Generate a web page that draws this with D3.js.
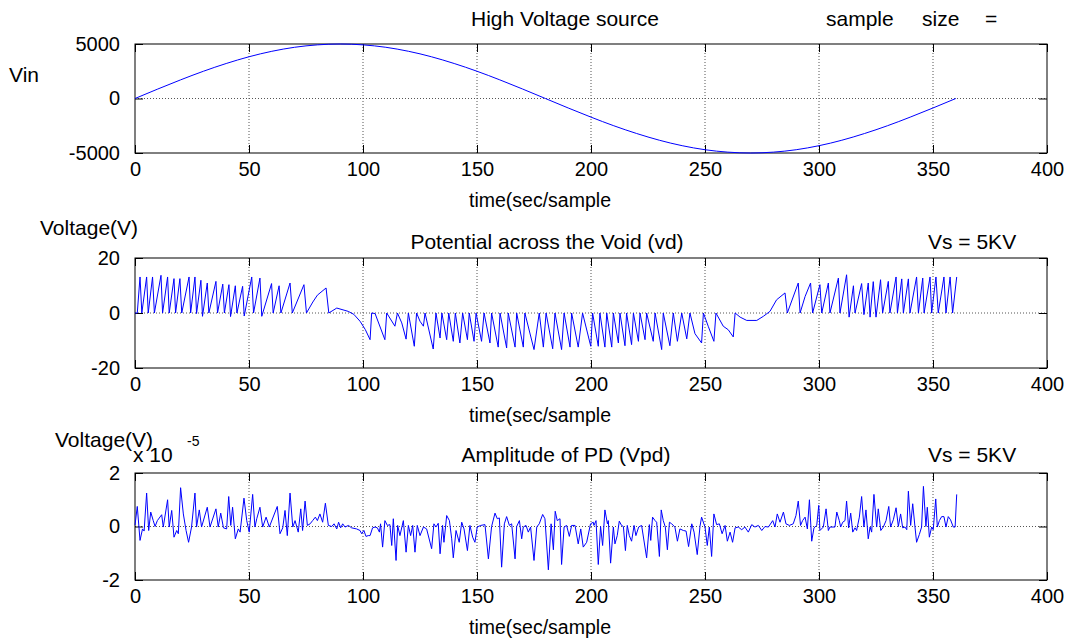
<!DOCTYPE html>
<html>
<head>
<meta charset="utf-8">
<script src="https://cdn.jsdelivr.net/npm/d3@7"></script>
<style>
  body { margin: 0; background: #fff; }
  svg text { font-family: "Liberation Sans", Arial, sans-serif; fill: #000; }
</style>
</head>
<body>
<div id="chart"></div>
<script>
/* Three stacked panels: source voltage, void potential, PD amplitude */

const xTicks = [0, 50, 100, 150, 200, 250, 300, 350, 400];

// source voltage, read every 10 samples
const vinT = [0, 10, 20, 30, 40, 50, 60, 70, 80, 90, 100, 110, 120, 130, 140, 150, 160, 170, 180,
              190, 200, 210, 220, 230, 240, 250, 260, 270, 280, 290, 300, 310, 320, 330, 340, 350, 360];
const vinV = [0, 870, 1710, 2500, 3210, 3830, 4330, 4700, 4920, 5000, 4920, 4700, 4330, 3830, 3210, 2500, 1710, 870, 0,
              -870, -1710, -2500, -3210, -3830, -4330, -4700, -4920, -5000, -4920, -4700, -4330, -3830, -3210, -2500, -1710, -870, 0];

// potential across the void (sample, volts) - vertices
const vdPoints = [
  [0,0],[1,0],[2.2,13.1],[3,0],[5.1,13.1],[5.8,0],[7.7,13.1],[8.5,0],[11.4,13.7],[12.1,0],[14.3,13.1],[15,0],
  [17.1,12.5],[17.8,0],[19.7,12.5],[20.5,0],[23.7,13.1],[24.4,0],[26.3,13.1],[27,-0.2],[28.9,11.9],[29.6,-1.2],
  [31.7,10.9],[32.4,0],[35.5,11.5],[36.2,0],[38.5,10.5],[39.2,0],[41.2,10.3],[41.9,-1.3],[44,9.9],[44.7,0],
  [47.2,9.7],[47.9,-1.1],[51.2,13.1],[52,0],[54.8,12.7],[55.6,-1.2],[59.9,10.7],[60.6,0],[63.2,9.9],[64,0],
  [68,10.9],[69,0],[74.1,10.3],[75.2,0],[78,4],[80,6.5],[83.8,9.1],[85,0],[88.5,1.8],[93.5,0.6],[96,-0.5],
  [98.7,-3],[101,-6],[103.1,-9.7],
  [103.8,0],[105.3,-0.2],[109.6,-9.7],[110.4,0],[114.0,-4.8],[115.1,0],[117.0,-3.6],[118.9,-9.5],[119.9,0],
  [122.5,-12.1],[123.5,0],[125.0,-3.0],[126.5,-4.8],[127.2,0],[130.8,-13.1],[132.0,0],[133.8,-9.1],[134.6,0],
  [136.7,-9.7],[137.6,0],[139.6,-10.3],[140.5,0],[142.5,-10.9],[143.7,0],[145.8,-9.7],[146.6,0],[148.7,-10.3],
  [149.6,0],[152.0,-10.3],[153.1,0],[155.7,-10.9],[156.4,0],[159.3,-12.4],[160.1,0],[163.0,-12.7],[163.7,0],
  [166.7,-12.4],[167.4,0],[170.3,-12.4],[171.0,0],[175.0,-13.3],[177.3,0],[179.1,-12.4],[180.3,0],[183.2,-13.0],
  [184.2,0],[187.1,-13.3],[188.2,0],[190.8,-12.4],[191.5,0],[194.4,-12.4],[196.3,0],[199.9,-12.1],[200.7,0],
  [203.2,-12.1],[203.9,0],
  [206.1,-12.4],[206.9,0],[209.1,-12.4],[209.8,0],[212.0,-10.9],[212.7,0],[214.9,-11.9],[215.6,0],[217.8,-11.5],
  [218.6,0],[220.8,-10.3],[221.5,0],[223.7,-9.7],[224.4,0],[227.3,-10.3],[228.1,0],[231.0,-13.3],[231.7,0],
  [234.6,-11.9],[236.1,0],[237.9,-10.3],[239.8,0],[242.0,-9.4],[243.4,0],[245.6,-7.5],[248.5,-10.9],[249.3,0],
  [251.5,-5],[253.9,-10.3],[254.8,0],[258.0,-4.8],[260.2,-6.1],[262.4,-8.7],[263.2,0],[265.4,-1.5],[268.3,-2.7],
  [272.7,-2.7],[275.6,-1.2],[278.5,0.6],[281.4,4.8],[285.1,7.3],[286.1,0],[290.9,10.9],[291.7,0],[293.9,6],
  [296.3,10.9],[297.2,0],[300.4,10.3],[301.2,0],[304.1,10.9],[304.8,0],[308.5,12.7],
  [309.2,0],[312.1,13.9],[313.2,-1.5],[315.1,9.9],[315.8,0],[318.7,10.7],[319.7,-0.6],[321.6,10.9],[322.4,-1.5],
  [323.8,11.4],[325.0,-1.5],[327.0,12.1],[327.9,0],[330.4,11.5],[331.1,0],[333.8,13.1],[334.4,0],[336.3,12.4],
  [337.0,0],[339.2,12.4],[339.9,0],[342.8,13.1],[343.6,0],[345.5,12.7],[346.1,0],[348.7,13.1],[349.4,0],
  [351.3,13.1],[352.3,0],[354.8,13.1],[355.7,0],[357.5,13.1],[358.6,0],[360.4,13.1]
];

// PD amplitude (sample, x 10^-5 V)
const vpdPoints = [
  [0,0.05],[1,0.75],[2.2,-0.52],[3.3,-0.09],[4,-0.17],[5.1,1.25],[6,-0.15],[6.9,0.54],[8,0.22],[8.8,0],[9.8,0.22],
  [11.7,0.44],[12.4,-0.02],[14.3,1.0],[15,-0.02],[16.1,0.6],[17.1,-0.4],[18.3,-0.15],[19,-0.27],[20,1.45],[21.2,0.47],
  [22.4,-0.15],[23.5,-0.59],[24.8,-0.02],[26.3,1.25],[27,-0.02],[28.2,0.62],[29.2,-0.02],[31.7,0.72],[32.9,-0.02],
  [35.5,0.66],[36.5,-0.02],[37.6,0.5],[38.8,-0.05],[40.2,-0.09],[41.1,1.12],[42,0.04],[42.8,0.72],[44,-0.46],
  [45.3,-0.09],[46.1,-0.21],[47.8,1.06],[49,0.22],[50.1,-0.21],[51.6,1.2],[52.6,-0.02],[53.4,0.29],[54.8,0.72],
  [56,-0.02],[57.5,0.35],[58.9,-0.02],[62.4,0.75],[63.6,-0.27],[64.8,-0.05],[65.8,0.6],[66.8,-0.34],[68,1.25],
  [69.2,-0.02],[70.2,0.22],[71.6,-0.21],[72.7,0.66],[73.5,-0.15],[74.6,0.95],[75.6,0.04],[76.8,0.1],[77.9,0.22],
  [79.1,0.35],[80,0.22],[81.1,0.47],[82.3,0.16],[83.5,0.87],[84.8,0.04],[86.3,0],[87.3,0.1],[88.5,-0.09],[89.3,0.16],
  [90.2,-0.05],[91.1,0.1],[92.1,-0.02],[93.6,0.04],[95,-0.05],[97.2,-0.09],[98.7,-0.15],[99.4,-0.27],[100.4,-0.15],
  [101.3,-0.37],[102.3,-0.34],[103.1,-0.34],[104.2,-0.05],[105.3,-0.02],[106.3,-0.05],[107.2,-0.21],[107.7,0.1],
  [108.6,-0.77],[109.6,0.22],[110.7,0.04],[111.8,0.07],[112.6,-0.71],[113.3,0.29],[114.5,-1.27],[115.2,0.04],
  [116.2,-0.34],[117.7,0.22],[118.9,-0.96],[119.9,0.04],[120.9,-0.34],[121.8,0.04],[122.8,-0.96],[123.8,0.04],
  [125,-0.34],[126.5,-0.02],[127.9,-0.09],[130.1,-0.83],[131.1,0.1],[132,-0.02],[133,0.12],[133.8,-1.02],[134.9,0.04],
  [135.5,-0.59],[136.7,0.41],[137.9,0.22],[138.9,-0.46],[139.6,-1.17],[140.8,-0.15],[142.2,-0.59],[143.3,0.16],
  [144.3,-0.09],[145.8,-0.9],[146.9,0.04],[148.1,-0.4],[149.1,-0.59],[150.1,-0.02],[151.6,0.04],[153.5,0.07],
  [155,-1.21],[156.4,0],[157.9,0.5],[158.9,0.29],[159.8,0.32],[160.8,-1.52],[162,0.1],[163,0.37],[164.2,0.04],
  [165.2,0.1],[166.7,-1.21],[167.4,0],[168.6,0.22],[169.6,-0.46],[170.3,-0.02],[171.5,0.04],[172.5,-0.21],
  [173.5,-0.02],[175,-1.27],[176.2,-0.02],[177.3,0.1],[178.8,0.45],[179.8,0.29],[181.3,-1.62],[182.5,0.1],
  [183.5,-0.87],[184.3,0.57],[185.2,0.22],[186.4,0.29],[187.1,-1.42],[188.2,-0.02],[189.3,0.04],[190.5,-0.37],
  [191.5,0.04],[193,0.04],[194.4,-0.65],[195.5,-0.09],[196.6,-0.77],[198.1,-0.59],[199.8,0.1],[201,0.16],
  [201.3,0.04],[202.2,0.22],[203.2,-1.42],[204.2,0],[205.1,-0.71],[206.1,0.62],[207.2,0.1],[207.6,0.22],
  [208.6,-1.37],[209.8,-0.02],[210.5,-0.65],[211.5,-0.34],[212.4,0.2],[213.4,0.04],[214.2,0],[215.1,-0.9],
  [215.9,0.04],[216.8,-0.34],[217.8,-0.55],[218.9,0.04],[219.7,-0.34],[220.9,-0.02],[222.2,0.04],[224.4,-1.17],
  [225.6,0.07],[226.2,-0.52],[227,0.35],[228.1,0.22],[228.8,0.16],[230,-1.12],[230.8,0.62],[231.7,0.22],
  [232.6,-0.02],[233.5,-0.87],[234.4,0.16],[235.4,0.1],[236.8,-0.02],[237.9,-0.55],[239,-0.09],[240.5,-0.15],
  [241.7,-0.17],[242.8,-0.75],[244.2,0.1],[245.2,-0.21],[246.6,-1.05],[247.8,0],[248.5,0.35],[250,-0.02],
  [251,-0.71],[251.9,-0.02],[252.9,-1.12],[253.9,0.47],[255.1,0.07],[256.3,0.1],[257.5,-0.27],[258.8,0.04],
  [259.8,-0.55],[261,-0.21],[262.1,-0.59],[263.2,-0.05],[264.6,-0.02],[266.1,-0.12],[267.5,-0.02],[269,-0.21],
  [270.5,0.07],[271.9,-0.02],[273.4,0.04],[274.9,-0.15],[276.3,0],[277.8,-0.02],[279.7,0.22],[280.7,-0.02],
  [281.7,0.47],[282.9,0.16],[284.4,0.54],[285.5,0.1],[287,0.04],[288.7,0.1],[289.9,0.41],[290.9,0.95],[291.9,0.04],
  [292.8,0.22],[293.9,0.35],[294.9,-0.09],[295.8,1.0],[296.8,-0.55],[297.8,-0.05],[299,0.04],[299.9,0.79],
  [300.4,-0.15],[301.9,-0.02],[303.1,0.66],[304.1,-0.15],[304.8,-0.02],[307,-0.02],[307.8,0.54],[308.9,0.22],
  [309.5,-0.02],[310.4,0.16],[311.4,0.22],[312.1,0.95],[313,-0.05],[313.9,0.5],[314.8,-0.21],[315.8,-0.05],
  [316.5,-0.15],[317.7,0.35],[318.7,1.12],[319.7,-0.02],[320.6,0.62],[321.6,-0.46],[322.4,-0.02],[323.1,-0.21],
  [324.1,1.2],[325.3,-0.02],[326,0.66],[327.1,-0.15],[328.2,-0.02],[329.4,0.22],[330.6,0.75],[331.4,-0.02],
  [332.6,0.25],[333.8,0.7],[334.8,0],[335.8,0.47],[336.7,-0.05],[337.7,-0.02],[338.5,-0.12],[339.2,1.32],
  [340.2,0.04],[341.1,0.85],[342.1,-0.02],[342.8,-0.59],[344,-0.3],[345,-0.02],[345.8,1.5],[346.9,0],[347.5,0.72],
  [348.4,-0.4],[349.4,-0.02],[350.1,-0.12],[351.2,1.03],[351.9,-0.02],[352.8,0.22],[353.8,0.37],[354.8,0.37],
  [355.7,-0.02],[356.7,0.37],[357.7,0.25],[358.9,-0.02],[359.7,-0.02],[360.4,1.2]
];

const width = 1066,
      height = 641,
      left = 135,
      right = 1047;

let svg = d3.select("#chart")
    .append("svg")
    .attr("width", width)
    .attr("height", height);

let x = d3.scaleLinear().domain([0, 400]).range([left, right]);

const panels = [
    { top: 44,  bottom: 153, domain: [-5000, 5000], ticks: [-5000, 0, 5000],
      pts: vinT.map((t, i) => [t, vinV[i]]), curve: d3.curveMonotoneX },
    { top: 258, bottom: 368, domain: [-20, 20], ticks: [-20, 0, 20],
      pts: vdPoints, curve: d3.curveLinear },
    { top: 473, bottom: 580, domain: [-2, 2], ticks: [-2, 0, 2],
      pts: vpdPoints, curve: d3.curveLinear }
];

const tickFs = 20,   // tick numbers
      labFs = 21;    // titles and axis labels

panels.forEach(p => {
    let y = d3.scaleLinear().domain(p.domain).range([p.bottom, p.top]);
    let g = svg.append("g");

    // dotted grid
    g.selectAll(".vgrid")
        .data(xTicks.slice(1, -1))
        .join("line")
        .attr("x1", d => x(d)).attr("x2", d => x(d))
        .attr("y1", p.top).attr("y2", p.bottom)
        .attr("stroke", "#555").attr("stroke-dasharray", "1,2");
    g.append("line")
        .attr("x1", left).attr("x2", right)
        .attr("y1", y(0)).attr("y2", y(0))
        .attr("stroke", "#555").attr("stroke-dasharray", "1,2");

    // inward ticks on all four sides, plain hyphen for negatives
    g.append("g").attr("transform", `translate(0,${p.bottom})`)
        .call(d3.axisBottom(x).tickValues(xTicks).tickSize(-8).tickPadding(9).tickFormat(d => String(d)))
        .call(a => a.select(".domain").remove())
        .call(a => a.selectAll("text").attr("font-size", tickFs).attr("font-family", "Liberation Sans"));
    g.append("g").attr("transform", `translate(0,${p.top})`)
        .call(d3.axisTop(x).tickValues(xTicks).tickSize(-8).tickFormat(""))
        .call(a => a.select(".domain").remove());
    g.append("g").attr("transform", `translate(${left},0)`)
        .call(d3.axisLeft(y).tickValues(p.ticks).tickSize(-8).tickPadding(15).tickFormat(d => String(d)))
        .call(a => a.select(".domain").remove())
        .call(a => a.selectAll("text").attr("font-size", tickFs).attr("font-family", "Liberation Sans"));
    g.append("g").attr("transform", `translate(${right},0)`)
        .call(d3.axisRight(y).tickValues(p.ticks).tickSize(-8).tickFormat(""))
        .call(a => a.select(".domain").remove());

    g.append("rect")
        .attr("x", left).attr("y", p.top)
        .attr("width", right - left).attr("height", p.bottom - p.top)
        .attr("fill", "none").attr("stroke", "#000");

    let line = d3.line()
        .x(d => x(d[0]))
        .y(d => y(d[1]))
        .curve(p.curve);

    g.append("path")
        .datum(p.pts)
        .attr("d", line)
        .attr("fill", "none")
        .attr("stroke", "#0000ff")
        .attr("stroke-width", 1);

    g.append("text")
        .text("time(sec/sample")
        .attr("x", 540).attr("y", p.bottom + 54)
        .attr("text-anchor", "middle")
        .attr("font-size", 19.5);
});

// titles and labels
const labels = [
    { t: "High Voltage source", x: 565, y: 26, a: "middle" },
    { t: "sample", x: 826, y: 26, a: "start" },
    { t: "size", x: 922, y: 26, a: "start" },
    { t: "=", x: 985, y: 26, a: "start" },
    { t: "Vin", x: 9, y: 82, a: "start" },
    { t: "Voltage(V)", x: 40, y: 235, a: "start" },
    { t: "Potential across the Void (vd)", x: 547, y: 249, a: "middle" },
    { t: "Vs = 5KV", x: 928, y: 249, a: "start" },
    { t: "Voltage(V)", x: 55, y: 447, a: "start" },
    { t: "x 10", x: 133, y: 462, a: "start" },
    { t: "Amplitude of PD (Vpd)", x: 566, y: 462, a: "middle" },
    { t: "Vs = 5KV", x: 928, y: 462, a: "start" }
];

svg.selectAll(".lbl")
    .data(labels)
    .join("text")
    .attr("class", "lbl")
    .text(d => d.t)
    .attr("x", d => d.x)
    .attr("y", d => d.y)
    .attr("text-anchor", d => d.a)
    .attr("font-size", labFs);

svg.append("text")
    .text("-5")
    .attr("x", 187).attr("y", 446)
    .attr("font-size", 14);
</script>
</body>
</html>
